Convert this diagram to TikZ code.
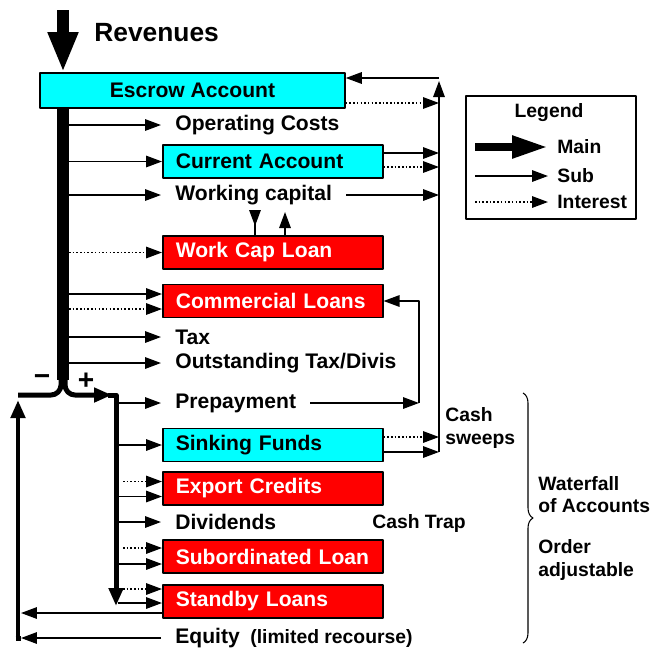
\documentclass[tikz,border=0pt]{standalone}
\usepackage{fontspec}
\setmainfont{Liberation Sans}
\usepackage{tikz}
\usetikzlibrary{arrows.meta, decorations.pathreplacing, calc, positioning}

\definecolor{boxcyan}{RGB}{0,255,255}
\definecolor{boxred}{RGB}{255,0,0}

\begin{document}
\begin{tikzpicture}[x=0.02cm, y=-0.02cm, line join=round,
	font=\fontsize{12}{14}\selectfont\bfseries,
	box/.style={draw, line width=0.9pt, anchor=west, minimum height=0.66cm,
		text width=3.88cm, inner xsep=0.26cm, align=left},
	cyanbox/.style={box, fill=boxcyan},
	redbox/.style={box, fill=boxred, text=white},
	txt/.style={anchor=west, inner xsep=0.28cm, inner ysep=0pt},
	note/.style={anchor=west, inner sep=0pt, align=left,
		font=\fontsize{11}{12.6}\selectfont\bfseries},
	sub/.style={line width=0.85pt, -{Triangle[length=0.32cm, width=0.23cm]}},
	interest/.style={sub, dash pattern=on 0.9pt off 1.2pt},
	spine/.style={line width=0.24cm},
	branch/.style={line width=0.1cm},
	bigtip/.style={-{Triangle[length=0.36cm, width=0.28cm]}}]
	
	\useasboundingbox (0,0) rectangle (652,650);
	
	% --- inflow and escrow ---
	\node[txt, inner xsep=0pt, font=\fontsize{15}{18}\selectfont\bfseries] (revenues) at (94,33) {Revenues};
	\coordinate (top) at (63,10);
	\node[draw, fill=boxcyan, line width=0.9pt, minimum width=6.1cm, minimum height=0.7cm] (escrow) at (192.5,90.5) {Escrow Account};
	\draw[spine, -{Triangle[length=0.8cm, width=0.56cm]}] (top) -- (top |- escrow.north);
	\coordinate (split) at (63,380);
	\draw[spine] (top |- escrow.south) -- (split);
	
	% helper x positions
	\coordinate (spine) at (69,0);
	\coordinate (spine2) at (118,0);
	\coordinate (spine3) at (123,0);
	\coordinate (sweep) at (439,0);
	\coordinate (loop) at (419,0);
	\coordinate (back) at (18,0);
	\coordinate (backr) at (21,0);
	
	% --- accounts ---
	\node[cyanbox] (current) at (162,161.5) {Current Account};
	\node[redbox] (workcap) at (162,252.5) {Work Cap Loan};
	\node[redbox] (commercial) at (162,301) {Commercial Loans};
	\node[cyanbox] (sinking) at (162,445) {Sinking Funds};
	\node[redbox] (export) at (162,488.5) {Export Credits};
	\node[redbox] (subloan) at (162,556.5) {Subordinated Loan};
	\node[redbox] (standby) at (162,601.5) {Standby Loans};
	
	% --- plain items ---
	\node[txt] (opcosts) at (161,125) {Operating Costs};
	\node[txt] (wcap) at (161,195) {Working capital};
	\node[txt] (tax) at (161,337) {Tax};
	\node[txt] (outtax) at (161,363) {Outstanding Tax/Divis};
	\node[txt] (prepay) at (161,403) {Prepayment};
	\node[txt] (dividends) at (161,522) {Dividends};
	\node[txt] (equity) at (161,638) {Equity};
	\node[note] (limrec) at (250,638) {(limited recourse)};
	
	% --- split into - and + ---
	\node[font=\fontsize{16}{18}\selectfont\bfseries] (minus) at (42,380) {−};
	\node[font=\fontsize{16}{18}\selectfont\bfseries] (plus) at (86,381) {+};
	\coordinate (corner) at (18,395);
	\coordinate (drop) at (116,606);
	\coordinate (lowcorner) at (back |- equity.west);
	\draw[branch, rounded corners=0.2cm] (61,376) |- (corner);
	\draw[branch, rounded corners=0.2cm, bigtip] (65,376) |- (112,395);
	\draw[branch, bigtip] (108,395) -| (drop);
	\draw[branch, bigtip] ([yshift=-0.05cm]lowcorner) -- ([yshift=-0.1cm]corner);
	\draw[branch] ([xshift=-0.05cm]lowcorner) -- (backr |- lowcorner);
	
	% --- from the main line ---
	\draw[sub] (spine |- opcosts.west) -- (opcosts.west);
	\draw[sub] (spine |- current.west) -- (current.west);
	\draw[sub] (spine |- wcap.west) -- (wcap.west);
	\draw[interest] (spine |- workcap.west) -- (workcap.west);
	\coordinate (cl-sub) at ([yshift=0.14cm]commercial.west);
	\coordinate (cl-int) at ([yshift=-0.16cm]commercial.west);
	\draw[sub] (spine |- cl-sub) -- (cl-sub);
	\draw[interest] (spine |- cl-int) -- (cl-int);
	\draw[sub] (spine |- tax.west) -- (tax.west);
	\draw[sub] (spine |- outtax.west) -- (outtax.west);
	
	% --- from the + line ---
	\draw[sub] (spine2 |- prepay.west) -- (prepay.west);
	\draw[sub] (spine2 |- sinking.west) -- (sinking.west);
	\coordinate (ec-int) at ([yshift=0.14cm]export.west);
	\coordinate (ec-sub) at ([yshift=-0.16cm]export.west);
	\draw[interest] (spine3 |- ec-int) -- (ec-int);
	\draw[sub] (spine2 |- ec-sub) -- (ec-sub);
	\draw[sub] (spine2 |- dividends.west) -- (dividends.west);
	\coordinate (sl-int) at ([yshift=0.17cm]subloan.west);
	\coordinate (sl-sub) at ([yshift=-0.15cm]subloan.west);
	\draw[interest] (spine3 |- sl-int) -- (sl-int);
	\draw[sub] (spine2 |- sl-sub) -- (sl-sub);
	\coordinate (sb-int) at ([yshift=0.25cm]standby.west);
	\coordinate (sb-sub) at ([yshift=-0.03cm]standby.west);
	\coordinate (sb-back) at ([yshift=-0.23cm]standby.west);
	\draw[interest] (spine3 |- sb-int) -- (sb-int);
	\draw[sub] (spine2 |- sb-sub) -- (sb-sub);
	
	% --- back to the - line ---
	\draw[sub] (sb-back) -- (backr |- sb-back);
	\draw[sub] (equity.west) -- (backr |- equity.west);
	
	% --- working capital loan ---
	\coordinate (wc-down) at (255,213);
	\coordinate (wc-up) at (285,212);
	\draw[sub] (wc-down) -- (255,226);
	\draw[line width=0.85pt] (255,222) -- (workcap.north -| wc-down);
	\draw[sub] (workcap.north -| wc-up) -- (wc-up);
	
	% --- prepayment loop ---
	\draw[sub] (prepay.east) -- (loop |- prepay.east);
	\draw[sub] (loop |- prepay.east) |- (commercial.east);
	
	% --- cash sweeps back to escrow ---
	\coordinate (es-in) at ([yshift=0.25cm]escrow.east);
	\coordinate (es-int) at ([yshift=-0.25cm]escrow.east);
	\coordinate (ca-sub) at ([yshift=0.17cm]current.east);
	\coordinate (ca-int) at ([yshift=-0.11cm]current.east);
	\coordinate (sf-int) at ([yshift=0.16cm]sinking.east);
	\coordinate (sf-sub) at ([yshift=-0.14cm]sinking.east);
	\coordinate (sweeptop) at (439,81);
	\draw[interest] (es-int) -- (sweep |- es-int);
	\draw[sub] (ca-sub) -- (sweep |- ca-sub);
	\draw[interest] (ca-int) -- (sweep |- ca-int);
	\draw[sub] (wcap.east) -- (sweep |- wcap.east);
	\draw[interest] (sf-int) -- (sweep |- sf-int);
	\draw[sub] (sf-sub) -- (sweep |- sf-sub);
	\draw[sub] (sweep |- sf-sub) -- (sweeptop);
	\draw[sub] (sweep |- es-in) -- (es-in);
	
	% --- side notes ---
	\node[note] (cashsweep) at (445,428) {Cash\\sweeps};
	\node[note] (cashtrap) at (372,523) {Cash Trap};
	\draw[decorate, decoration={brace, amplitude=0.2cm}, line width=0.6pt] (523,393) -- (523,643);
	\node[note] (waterfall) at (538,495) {Waterfall\\of Accounts};
	\node[note] (order) at (538,560) {Order\\adjustable};
	
	% --- legend ---
	\node[draw, line width=0.9pt, minimum width=3.4cm, minimum height=2.46cm] (legend) at (551,157.5) {};
	\node[note, anchor=center] (legtitle) at (549,113) {Legend};
	\node[note] (legmain) at (557,147) {Main};
	\node[note] (legsub) at (557,176) {Sub};
	\node[note] (legint) at (557,202) {Interest};
	\coordinate (lg-main) at (475,147);
	\coordinate (lg-sub) at (475,176);
	\coordinate (lg-int) at (475,202);
	\draw[line width=0.16cm, -{Triangle[length=0.72cm, width=0.42cm]}] (lg-main) -- ([xshift=-0.18cm]legmain.west);
	\draw[sub] (lg-sub) -- ([xshift=-0.18cm]legsub.west);
	\draw[interest] (lg-int) -- ([xshift=-0.18cm]legint.west);
\end{tikzpicture}
\end{document}
